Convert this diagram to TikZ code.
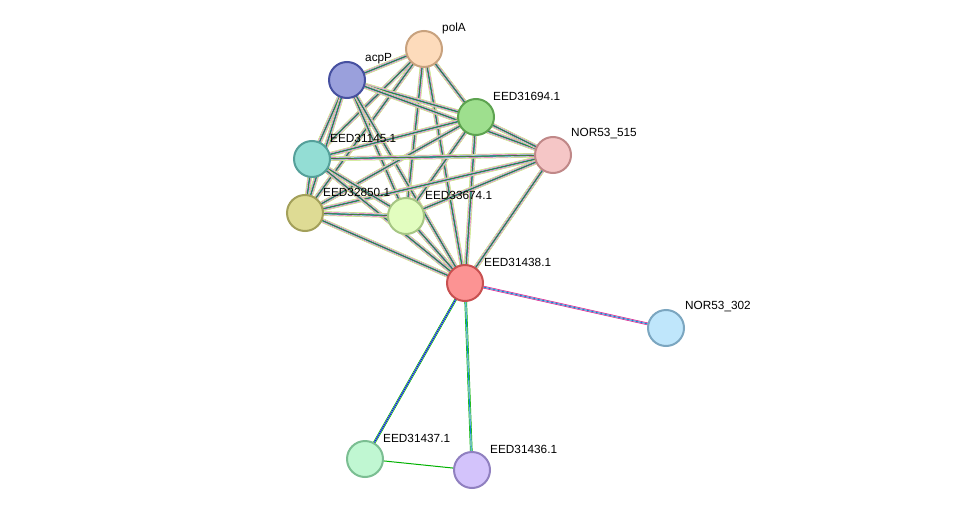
\documentclass[tikz,border=0pt]{standalone}
\usepackage{fontspec}
\setmainfont{Liberation Sans}
\begin{document}
\begin{tikzpicture}[x=1pt,y=-1pt,
  nd/.style={circle,minimum size=36pt,inner sep=0pt,line width=2pt},
  lb/.style={anchor=west,font=\fontsize{11.8}{13}\selectfont,inner sep=0pt}]
\useasboundingbox (0,0) rectangle (976,516);
\fill[white] (0,0) rectangle (976,516);
\coordinate (polA) at (424,49);
\coordinate (acpP) at (347,80);
\coordinate (e694) at (476,117);
\coordinate (n515) at (553,155);
\coordinate (e145) at (312,159);
\coordinate (e850) at (305,213);
\coordinate (e674) at (406,216);
\coordinate (e438) at (465,283);
\coordinate (n302) at (666,328);
\coordinate (e437) at (365,459);
\coordinate (e436) at (472,470);
\newcommand\medge[2]{%
 \draw[line width=4.6pt,yellow!60!green!70!white] (#1)--(#2);
 \draw[line width=3.6pt,white] (#1)--(#2);
 \draw[line width=3.0pt,magenta!70!violet!80!white] (#1)--(#2);
 \draw[line width=2.2pt,white] (#1)--(#2);
 \draw[line width=1.6pt,cyan!60!blue!80!white] (#1)--(#2);
 \draw[line width=0.9pt,green!60!black!80!white] (#1)--(#2);
 \draw[line width=0.35pt,black!70] (#1)--(#2);}
\foreach \a/\b in {polA/acpP,polA/e694,polA/e145,polA/e850,polA/e674,polA/e438,
 acpP/e694,acpP/n515,acpP/e145,acpP/e850,acpP/e674,acpP/e438,
 e694/n515,e694/e145,e694/e850,e694/e674,e694/e438,
 n515/e145,n515/e850,n515/e674,n515/e438,
 e145/e850,e145/e674,e145/e438,e850/e674,e850/e438,e674/e438}{\medge{\a}{\b}}
\draw[line width=2.6pt,magenta!80!violet] (e438)--(n302);
\draw[line width=1.2pt,white] (e438)--(n302);
\draw[line width=0.8pt,cyan!70!blue] (e438)--(n302);
\draw[line width=2.6pt,green!70!black] (e438)--(e437);
\draw[line width=1.2pt,white] (e438)--(e437);
\draw[line width=0.8pt,blue] (e438)--(e437);
\draw[line width=2.6pt,green!70!black] (e438)--(e436);
\draw[line width=1.2pt,white] (e438)--(e436);
\draw[line width=0.8pt,cyan!70!blue] (e438)--(e436);
\draw[line width=1pt,green!70!black] (e437)--(e436);
\node[nd,fill={rgb,255:red,253;green,219;blue,187},draw={rgb,255:red,200;green,162;blue,126}] at (polA) {};
\node[nd,fill={rgb,255:red,154;green,160;blue,220},draw={rgb,255:red,70;green,80;blue,160}] at (acpP) {};
\node[nd,fill={rgb,255:red,158;green,223;blue,142},draw={rgb,255:red,93;green,163;blue,80}] at (e694) {};
\node[nd,fill={rgb,255:red,245;green,198;blue,198},draw={rgb,255:red,192;green,136;blue,136}] at (n515) {};
\node[nd,fill={rgb,255:red,147;green,221;blue,212},draw={rgb,255:red,85;green,160;blue,154}] at (e145) {};
\node[nd,fill={rgb,255:red,222;green,219;blue,148},draw={rgb,255:red,163;green,160;blue,90}] at (e850) {};
\node[nd,fill={rgb,255:red,226;green,253;blue,191},draw={rgb,255:red,166;green,198;blue,132}] at (e674) {};
\node[nd,fill={rgb,255:red,252;green,147;blue,147},draw={rgb,255:red,200;green,80;blue,80}] at (e438) {};
\node[nd,fill={rgb,255:red,191;green,230;blue,251},draw={rgb,255:red,123;green,166;blue,192}] at (n302) {};
\node[nd,fill={rgb,255:red,192;green,247;blue,210},draw={rgb,255:red,123;green,190;blue,146}] at (e437) {};
\node[nd,fill={rgb,255:red,211;green,195;blue,251},draw={rgb,255:red,144;green,128;blue,192}] at (e436) {};
\node[lb] (lpolA) at (442,28) {polA};
\node[lb] (lacpP) at (365,59) {acpP};
\node[lb] (l694) at (493,96) {EED31694.1};
\node[lb] (l515) at (571,134) {NOR53\_515};
\node[lb] (l145) at (330,138) {EED31145.1};
\node[lb] (l850) at (323,192) {EED32850.1};
\node[lb] (l674) at (425,195) {EED33674.1};
\node[lb] (l438) at (484,262) {EED31438.1};
\node[lb] (l302) at (685,307) {NOR53\_302};
\node[lb] (l437) at (383,438) {EED31437.1};
\node[lb] (l436) at (490,449) {EED31436.1};
\end{tikzpicture}
\end{document}
